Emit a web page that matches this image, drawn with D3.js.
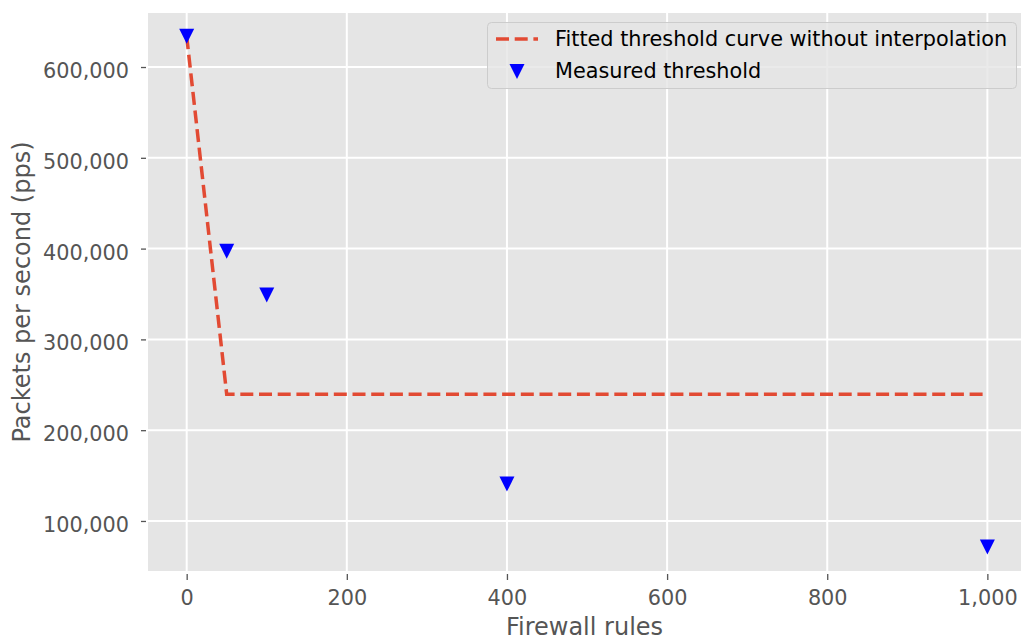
<!DOCTYPE html>
<html>
<head>
<meta charset="utf-8">
<script src="https://cdn.jsdelivr.net/npm/d3@7"></script>
<style>
  body { margin: 0; background: #fff; }
  svg { display: block; font-family: "DejaVu Sans", sans-serif; }
</style>
</head>
<body>
<svg id="chart" width="1022" height="639"></svg>
<script>
// firewall rule counts tested
const rules = [0, 50, 100, 400, 1000];
// measured threshold (pps)
const measured = [634000, 397000, 349000, 140700, 71300];
// fitted threshold curve, no interpolation
const fitted = [634000, 239500, 239500, 239500, 239500];

const xTicks = [0, 200, 400, 600, 800, 1000];
const yTicks = [100000, 200000, 300000, 400000, 500000, 600000];

const seriesNames = ["Fitted threshold curve without interpolation", "Measured threshold"];

const svg = d3.select("#chart");

// plot area
const plotLeft = 148, plotRight = 1021, plotTop = 13, plotBottom = 571;

const x = d3.scaleLinear().domain([-48.3, 1042]).range([plotLeft, plotRight]);
const y = d3.scaleLinear().domain([44900, 659500]).range([plotBottom, plotTop]);

const fmt = d3.format(",");

svg.append("rect")
    .attr("x", plotLeft)
    .attr("y", plotTop)
    .attr("width", plotRight - plotLeft)
    .attr("height", plotBottom - plotTop)
    .attr("fill", "#E5E5E5");

// grid lines
svg.append("g").selectAll("line")
    .data(xTicks)
    .enter().append("line")
    .attr("x1", d => x(d)).attr("x2", d => x(d))
    .attr("y1", plotTop).attr("y2", plotBottom)
    .attr("stroke", "#fff")
    .attr("stroke-width", 2);

svg.append("g").selectAll("line")
    .data(yTicks)
    .enter().append("line")
    .attr("x1", plotLeft).attr("x2", plotRight)
    .attr("y1", d => y(d)).attr("y2", d => y(d))
    .attr("stroke", "#fff")
    .attr("stroke-width", 2);

// axes
const xAxis = svg.append("g")
    .attr("transform", "translate(0," + plotBottom + ")")
    .call(d3.axisBottom(x).tickValues(xTicks).tickFormat(fmt).tickSize(9).tickPadding(10));

const yAxis = svg.append("g")
    .attr("transform", "translate(" + plotLeft + ",0)")
    .call(d3.axisLeft(y).tickValues(yTicks).tickFormat(fmt).tickSize(7).tickPadding(12));

[xAxis, yAxis].forEach(function (ax) {
    ax.select(".domain").remove();
    ax.selectAll("text")
        .attr("fill", "#555555")
        .style("font-size", "20.8px")
        .style("font-family", "DejaVu Sans");
    ax.selectAll(".tick line").attr("stroke", "#555555").attr("stroke-width", 1.3);
});
xAxis.selectAll(".tick line").attr("y1", 3);
yAxis.selectAll(".tick line").attr("x1", -2);
yAxis.selectAll("text").attr("dy", "0.5em");

// axis labels
svg.append("text")
    .attr("x", (plotLeft + plotRight) / 2)
    .attr("y", 635)
    .attr("text-anchor", "middle")
    .attr("fill", "#555555")
    .style("font-size", "24px")
    .text("Firewall rules");

svg.append("text")
    .attr("transform", "translate(30," + (plotTop + plotBottom) / 2 + ") rotate(-90)")
    .attr("text-anchor", "middle")
    .attr("fill", "#555555")
    .style("font-size", "24px")
    .text("Packets per second (pps)");

// fitted line
const pts = rules.map((r, i) => [r, fitted[i]]);
const line = d3.line().x(d => x(d[0])).y(d => y(d[1]));

svg.append("path")
    .datum(pts)
    .attr("d", line)
    .attr("fill", "none")
    .attr("stroke", "#E24A33")
    .attr("stroke-width", 3.5)
    .attr("stroke-dasharray", "13,5.7");

// measured markers (triangle down)
const tri = function (cx, cy) {
    const h = 7.5;
    return "M" + (cx - h) + "," + (cy - h) + "L" + (cx + h) + "," + (cy - h) + "L" + cx + "," + (cy + h) + "Z";
};

svg.append("g").selectAll("path")
    .data(rules.map((r, i) => [r, measured[i]]))
    .enter().append("path")
    .attr("d", d => tri(x(d[0]), y(d[1])))
    .attr("fill", "#0000FF");

// legend
const legend = svg.append("g");
legend.append("rect")
    .attr("x", 487.5)
    .attr("y", 22.5)
    .attr("width", 529)
    .attr("height", 66)
    .attr("rx", 4)
    .attr("fill", "#E5E5E5")
    .attr("fill-opacity", 0.8)
    .attr("stroke", "#CCCCCC")
    .attr("stroke-width", 1);

legend.append("line")
    .attr("x1", 496).attr("x2", 538)
    .attr("y1", 39).attr("y2", 39)
    .attr("stroke", "#E24A33")
    .attr("stroke-width", 3.5)
    .attr("stroke-dasharray", "13,5.7");

legend.append("path")
    .attr("d", tri(517, 71.5))
    .attr("fill", "#0000FF");

legend.selectAll("text")
    .data(seriesNames)
    .enter().append("text")
    .attr("x", 555)
    .attr("y", (d, i) => 46 + i * 31.5)
    .attr("fill", "#000")
    .style("font-size", "20.8px")
    .text(d => d);
</script>
</body>
</html>
